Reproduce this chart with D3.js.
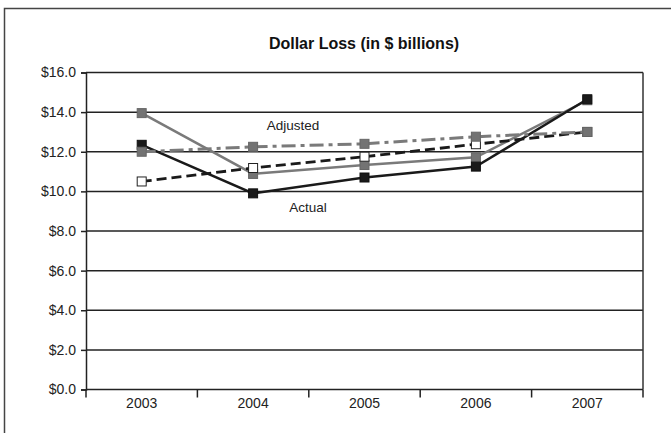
<!DOCTYPE html>
<html><head><meta charset="utf-8">
<script src="https://cdn.jsdelivr.net/npm/d3@7"></script>
<style>body{margin:0;background:#fff}svg{display:block}</style>
</head><body>
<script>
const years = ["2003","2004","2005","2006","2007"];
const actual = [12.35, 9.9, 10.7, 11.25, 14.65];
const graySolid = [13.95, 10.88, 11.33, 11.72, 14.6];
const dashedWhite = [10.5, 11.18, 11.75, 12.38, 13.0];
const adjusted = [12.0, 12.25, 12.4, 12.76, 13.0];
const yTicks = [0,2,4,6,8,10,12,14,16];
const title = "Dollar Loss (in $ billions)";

const W=671,H=433;
const svg=d3.select("body").append("svg").attr("width",W).attr("height",H);
const font="'Liberation Sans', Arial, sans-serif";
const L=86,R=643,T=72.5,B=389.5;
const x=d3.scaleBand().domain(years).range([L,R]);
const y=d3.scaleLinear().domain([0,16]).range([B,T]);
const cx=d=>x(d)+x.bandwidth()/2;

// outer frame
svg.append("path").attr("d",`M4.5,${H+2} V8.5 H${W+2}`).attr("fill","none").attr("stroke","#444").attr("stroke-width",1.5);

svg.append("text").attr("x",364).attr("y",49).attr("text-anchor","middle")
 .attr("font-family",font).attr("font-weight","bold").attr("font-size",16).attr("fill","#111").text(title);

// gridlines
svg.append("g").selectAll("line").data(yTicks).join("line")
 .attr("x1",L).attr("x2",R).attr("y1",d=>y(d)).attr("y2",d=>y(d))
 .attr("stroke","#222").attr("stroke-width",1.5);
// right border
svg.append("line").attr("x1",R).attr("x2",R).attr("y1",T).attr("y2",B).attr("stroke","#333").attr("stroke-width",1.5);

const yAxis=svg.append("g").attr("transform",`translate(${L},0)`)
 .call(d3.axisLeft(y).tickValues(yTicks).tickSize(5).tickPadding(5).tickFormat(d=>"$"+d.toFixed(1)));
yAxis.select(".domain").attr("stroke","#222").attr("stroke-width",1.5);
yAxis.selectAll(".tick line").attr("stroke","#222").attr("stroke-width",1.5);
yAxis.selectAll("text").attr("font-family",font).attr("font-size",14).attr("fill","#222");

const xAxis=svg.append("g").attr("transform",`translate(0,${B})`)
 .call(d3.axisBottom(x).tickSize(0).tickPadding(9));
xAxis.select(".domain").remove();
xAxis.selectAll("text").attr("font-family",font).attr("font-size",14).attr("fill","#222");
// boundary ticks
const bounds=years.map(d=>x(d)).concat([R]);
svg.append("g").selectAll("line").data(bounds).join("line")
 .attr("x1",d=>d).attr("x2",d=>d).attr("y1",B).attr("y2",B+8).attr("stroke","#222").attr("stroke-width",1.5);

const line=d3.line().x((d,i)=>cx(years[i])).y(d=>y(d));
function series(vals,stroke,width,dash,fill,mstroke){
  svg.append("path").datum(vals).attr("d",line).attr("fill","none")
   .attr("stroke",stroke).attr("stroke-width",width).attr("stroke-dasharray",dash);
  svg.append("g").selectAll("rect").data(vals).join("rect")
   .attr("x",(d,i)=>cx(years[i])-4.5).attr("y",d=>y(d)-4.5).attr("width",9).attr("height",9)
   .attr("fill",fill).attr("stroke",mstroke).attr("stroke-width",1);
}
series(graySolid,"#7a7a7a",2.5,null,"#737373","#666");
series(actual,"#1a1a1a",2.5,null,"#1a1a1a","#111");
series(dashedWhite,"#1a1a1a",2.8,"10,5","#fff","#222");
series(adjusted,"#7a7a7a",3,"14,5,4,5","#737373","#666");

svg.append("text").attr("x",293).attr("y",130).attr("text-anchor","middle")
 .attr("font-family",font).attr("font-size",13.5).attr("fill","#222").text("Adjusted");
svg.append("text").attr("x",308).attr("y",212).attr("text-anchor","middle")
 .attr("font-family",font).attr("font-size",13.5).attr("fill","#222").text("Actual");
</script>
</body></html>
